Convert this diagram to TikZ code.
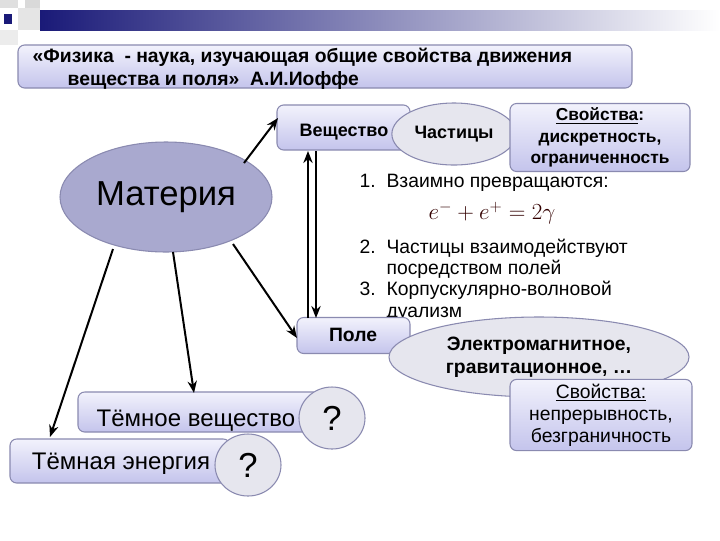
\documentclass[tikz,border=0pt]{standalone}
\usepackage{fontspec}
\setmainfont{Liberation Sans}
\usetikzlibrary{shapes.geometric,arrows.meta}
\definecolor{boxtop}{HTML}{F2F2FC}
\definecolor{boxbot}{HTML}{C4C4EC}
\definecolor{boxline}{HTML}{8A8AB0}
\definecolor{ellfill}{HTML}{E6E6EE}
\definecolor{matfill}{HTML}{A9A9CF}
\definecolor{navy}{HTML}{1A1A78}
\tikzset{
 pbox/.style={draw=boxline, rounded corners=5pt, top color=boxtop, bottom color=boxbot, line width=0.8pt},
 pell/.style={draw=boxline, ellipse, fill=ellfill, line width=0.8pt},
 arr/.style={-{Stealth[length=9pt,width=7pt]}, line width=1.5pt},
}
\begin{document}
\begin{tikzpicture}[x=0.75pt,y=-0.75pt]
\useasboundingbox (0,0) rectangle (720,540);
\fill[white] (0,0) rectangle (720,540);
% header decoration
\shade[left color=navy, right color=white] (40,10) rectangle (720,30);
\fill[gray!25] (0,0) rectangle (18,8);
\fill[gray!20] (18,8) rectangle (40,30);
\fill[gray!15] (0,30) rectangle (18,45);
\fill[gray!30] (25,0) rectangle (40,8);
\fill[navy] (4,14) rectangle (12,24);
% title
\node[pbox, minimum width=614*0.75pt, minimum height=43*0.75pt] (title) at (325,66.5) {};
\node[anchor=west, font=\bfseries\fontsize{14.5}{16}\selectfont] (t1) at (28,57) {«Физика \ - наука, изучающая общие свойства движения};
\node[anchor=west, font=\bfseries\fontsize{14.5}{16}\selectfont] (t2) at (63,80) {вещества и поля» \ А.И.Иоффе};
% boxes
\node[pbox, minimum width=133*0.75pt, minimum height=45*0.75pt] (ves) at (343.5,127.5) {};
\node[font=\bfseries\fontsize{13.5}{15}\selectfont] (vest) at (344,132) {Вещество};
\node[pell, minimum width=118*0.75pt, minimum height=62*0.75pt, font=\bfseries\fontsize{13.5}{15}\selectfont] (chast) at (454,134) {Частицы};
\node[pbox, minimum width=180*0.75pt, minimum height=65*0.75pt, align=center, font=\bfseries\fontsize{13}{16}\selectfont] (sv1) at (600,137.5) {\underline{Свойства}:\\дискретность,\\ограниченность};
\node[pell, fill=matfill, minimum width=212*0.75pt, minimum height=110*0.75pt, font=\fontsize{26}{30}\selectfont] (mat) at (166,197) {Материя};
% texts
\node[anchor=west, font=\fontsize{14.5}{16}\selectfont] (l1) at (355,183) {1.\ \ Взаимно превращаются:};
\node[font=\fontsize{18}{20}\selectfont, text=black!80!red] (eq) at (492,213) {$e^{-}+e^{+}=2\gamma$};
\node[anchor=north west, align=left, font=\fontsize{14.5}{16}\selectfont] (l2) at (355,234) {2.\ \ Частицы взаимодействуют\\\phantom{2.\ \ }посредством полей\\3.\ \ Корпускулярно-волновой\\\phantom{3.\ \ }дуализм};
% Pole
\node[pbox, minimum width=113*0.75pt, minimum height=36*0.75pt] (pole) at (353.5,335.5) {};
\node[font=\bfseries\fontsize{14.5}{16}\selectfont] (polet) at (353,335) {Поле};
\node[pell, minimum width=300*0.75pt, minimum height=80*0.75pt, align=center, font=\bfseries\fontsize{14.5}{17.5}\selectfont] (em) at (539,357) {Электромагнитное,\\гравитационное, …};
\node[pbox, minimum width=182*0.75pt, minimum height=70*0.75pt, align=center, font=\fontsize{14.5}{16.5}\selectfont] (sv2) at (601,415) {\underline{Свойства:}\\непрерывность,\\безграничность};
% dark
\node[pbox, minimum width=242*0.75pt, minimum height=40*0.75pt] (tv) at (199,412) {};
\node[font=\fontsize{18}{20}\selectfont] (tvt) at (196,421) {Тёмное вещество};
\node[pell, minimum width=66*0.75pt, minimum height=62*0.75pt, font=\fontsize{26}{28}\selectfont] (q1) at (332,418) {?};
\node[pbox, minimum width=220*0.75pt, minimum height=44*0.75pt] (te) at (120,461) {};
\node[font=\fontsize{18}{20}\selectfont] (tet) at (121,464) {Тёмная энергия};
\node[pell, minimum width=66*0.75pt, minimum height=62*0.75pt, font=\fontsize{26}{28}\selectfont] (q2) at (248,465) {?};
% arrows
\coordinate (a1) at (244,163); \coordinate (b1) at (278,118);
\draw[arr] (a1) -- (b1);
\coordinate (a2) at (233,244); \coordinate (b2) at (297,338);
\draw[arr] (a2) -- (b2);
\coordinate (a3) at (173,252); \coordinate (b3) at (194,393);
\draw[arr] (a3) -- (b3);
\coordinate (a4) at (113,249); \coordinate (b4) at (50,437);
\draw[arr] (a4) -- (b4);
\coordinate (u1) at (308,318); \coordinate (u2) at (308,151);
\draw[arr] (u1) -- (u2);
\coordinate (d1) at (316,151); \coordinate (d2) at (316,318);
\draw[arr] (d1) -- (d2);
\end{tikzpicture}
\end{document}
